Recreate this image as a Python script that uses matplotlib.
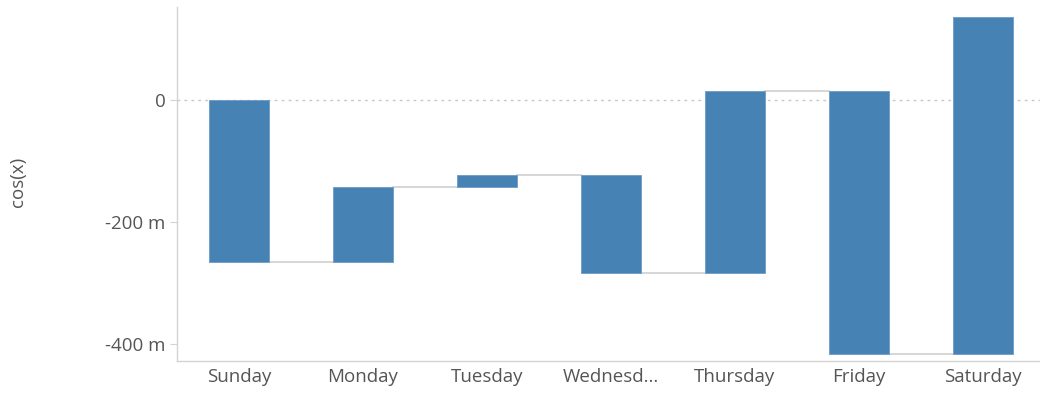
import numpy as np
import matplotlib
matplotlib.use("Agg")
import matplotlib.pyplot as plt
from matplotlib.ticker import FuncFormatter

# ---------------- Data ----------------
days = ["Sunday", "Monday", "Tuesday", "Wednesd...", "Thursday", "Friday", "Saturday"]
changes = [-0.266, 0.123, 0.020, -0.161, 0.298, -0.430, 0.552]

# waterfall: start / end level of every bar
ends = np.cumsum(changes)
starts = np.concatenate([[0], ends[:-1]])

# ---------------- Plot ----------------
plt.rcParams["font.family"] = ["Open Sans", "DejaVu Sans"]

fig = plt.figure(figsize=(10.4, 4), dpi=100)
ax = fig.add_axes([0.170, 0.0975, 0.830, 0.885])

x = np.arange(len(days))
width = 0.484
ax.bar(x, ends - starts, bottom=starts, width=width, color="#4682b4",
       edgecolor="#6a9cc8", linewidth=0.6, zorder=3)

# connectors between bars
for i in range(len(days) - 1):
    ax.plot([x[i] + width / 2, x[i + 1] - width / 2], [ends[i], ends[i]],
            color="#d0d0d0", linewidth=1.2, zorder=2)

# zero line
ax.axhline(0, color="#c8c8c8", linewidth=1, linestyle=(0, (2, 3)), zorder=1)

ax.set_xlim(-0.5, 6.46)
ax.set_ylim(-0.428, 0.152)
ax.set_xticks(x)
ax.set_xticklabels(days)
ax.set_yticks([0, -0.2, -0.4])


def si_fmt(v, pos):
    if abs(v) < 1e-9:
        return "0"
    return f"{v * 1000:.0f} m"


ax.yaxis.set_major_formatter(FuncFormatter(si_fmt))

for side in ["top", "right"]:
    ax.spines[side].set_visible(False)
for side in ["left", "bottom"]:
    ax.spines[side].set_color("#d3d3d3")
    ax.spines[side].set_linewidth(1)

ax.tick_params(axis="x", length=0, pad=5, labelsize=13.5, labelcolor="#555555")
ax.tick_params(axis="y", length=5, color="#d3d3d3", pad=3, labelsize=13.5, labelcolor="#555555")

fig.text(0.017, 0.545, "cos(x)", rotation=90, va="center", ha="center",
         fontsize=13.5, color="#555555")

fig.savefig("out.png", dpi=100)
